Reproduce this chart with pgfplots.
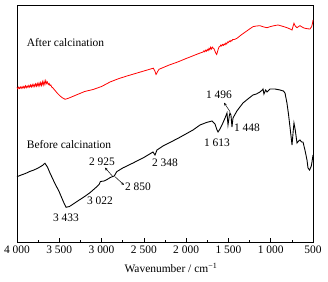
\documentclass[border=0pt]{standalone}
\usepackage{fontspec}
\setmainfont{Liberation Serif}
\usepackage{pgfplots}
\pgfplotsset{compat=1.18}
\usetikzlibrary{arrows.meta}
\pgfplotstableread{
w y
4000 154.5
3990 153.2
3980 154.9
3970 153.5
3960 155.0
3950 153.6
3940 155.4
3930 153.8
3920 155.6
3910 154.0
3900 156.2
3890 154.3
3880 156.0
3870 154.6
3860 156.6
3850 154.8
3840 157.0
3830 155.0
3820 157.4
3810 155.3
3800 157.6
3790 155.5
3780 158.2
3770 155.8
3760 158.5
3750 156.0
3740 159.0
3730 156.2
3720 159.4
3710 156.5
3700 160.3
3690 157.0
3680 160.8
3670 157.5
3660 161.5
3650 158.5
3640 160
3630 157.5
3620 158.5
3610 156.5
3600 157
3590 155
3580 154.5
3565 153
3550 151.5
3520 148.5
3490 146
3460 144
3430 142.7
3400 143.5
3370 144.5
3300 147
3200 150.5
3100 152.5
3000 155.5
2900 160
2800 163.3
2700 166
2600 168.5
2500 171
2400 173.5
2388 173.8
2370 171
2356 167.5
2340 170
2321 172.7
2200 177
2100 180
2000 183.5
1954 185
1850 188.5
1800 190
1790 191.2
1780 190.2
1770 191.8
1760 190.8
1750 192.6
1740 191.4
1730 193.6
1720 192.2
1710 194.8
1700 193
1690 194.8
1682 194
1670 193.2
1660 191
1650 189
1639 187.5
1630 190
1620 193
1610 195.2
1600 195.5
1590 197
1580 196
1570 197.6
1560 196.6
1550 198
1540 197.2
1530 199
1520 198
1510 200
1500 199.5
1490 201
1480 200.2
1470 201.6
1460 201
1450 202.5
1430 202.5
1399 203.7
1350 207
1300 210
1250 213
1210 215.3
1170 216
1127 216.3
1080 215
1044 214.3
1000 215.5
950 216.5
914 217
870 216
808 214.3
770 213
748 212
735 216
725 218.7
710 216
689 214.3
670 215.5
654 216.3
620 214.5
595 213.7
560 213.2
536 213
516 215.3
505 219
500 222
}\after
\pgfplotstableread{
w y
4000 65.3
3950 67
3900 68.5
3850 70.5
3800 72
3750 74
3700 76.5
3680 78
3669 78.7
3640 75
3610 69
3560 60
3500 50
3450 40
3420 34.7
3380 35.5
3294 40.3
3200 45.5
3137 49.3
3060 55
3030 57.5
3013 60.5
2971 61
2935 62.5
2900 64.3
2870 65.5
2850 66
2821 70.3
2750 74
2628 79
2500 84.5
2392 90
2368 87
2345 92
2274 96
2100 103.5
1919 112
1836 117
1760 119.5
1694 121
1659 118
1635 112
1623 110
1600 113
1576 117
1540 124
1517 129
1505 117
1490 126
1482 129
1470 127
1458 115
1446 124
1400 131
1328 139
1270 143
1210 147
1170 148
1127 150
1100 152
1091 153
1080 148
1060 152
1044 150
1009 153
950 153
890 152
850 151
831 149
808 139
790 128
772 115
748 97
735 110
725 119
710 112
689 99
670 101
654 102
635 100
618 100
590 90
571 82
559 74
540 72
520 76
512 80
500 87
}\before
\begin{document}
\fontsize{11.5}{13}\selectfont
\begin{tikzpicture}
\useasboundingbox (-17bp,-40bp) rectangle (311bp,242bp);
\begin{axis}[
  scale only axis, width=296bp, height=237bp,
  x dir=reverse, xmin=500, xmax=4000, ymin=0, ymax=237,
  xtick={500,1000,...,4000},
  xticklabels={500,1 000,1 500,2 000,2 500,3 000,3 500,4 000},
  minor x tick num=1,
  ytick=\empty, xtick pos=left, tick align=inside,
  major tick length=4bp, minor tick length=2bp,
  axis line style={line width=0.8pt},
  tick style={black, line width=0.6pt},
  every tick label/.append style={font=\fontsize{11.5}{13}\selectfont},
  xlabel={Wavenumber / cm\textsuperscript{−1}},
  xlabel style={font=\fontsize{11.5}{13}\selectfont, at={(axis description cs:0.52,0)}, anchor=center, yshift=-26bp},
  clip=false,
  every node/.append style={font=\fontsize{11.5}{13}\selectfont},
]
\addplot[red, line width=0.8pt] table[x=w,y=y] {\after};
\addplot[black, line width=0.9pt] table[x=w,y=y] {\before};
\node at (axis cs:3426,199) {After calcination};
\node at (axis cs:3385,97) {Before calcination};
\node at (axis cs:3421,24) {3 433};
\node at (axis cs:3019,41.3) {3 022};
\node at (axis cs:2995,80) {2 925};
\node at (axis cs:2569,55) {2 850};
\node at (axis cs:2250,79.3) {2 348};
\node at (axis cs:1635,99.3) {1 613};
\node at (axis cs:1280,114) {1 448};
\node at (axis cs:1612,147) {1 496};
\draw[-{Stealth[length=3pt,width=2.5pt]}, line width=0.5pt] (axis cs:2865,65.3) -- (axis cs:2960,74.3);
\draw[-{Stealth[length=3pt,width=2.5pt]}, line width=0.5pt] (axis cs:2841,65.3) -- (axis cs:2735,57);
\draw[-{Stealth[length=3pt,width=2.5pt]}, line width=0.5pt] (axis cs:1481,130.3) -- (axis cs:1552,139.3);
\end{axis}
\end{tikzpicture}
\end{document}
